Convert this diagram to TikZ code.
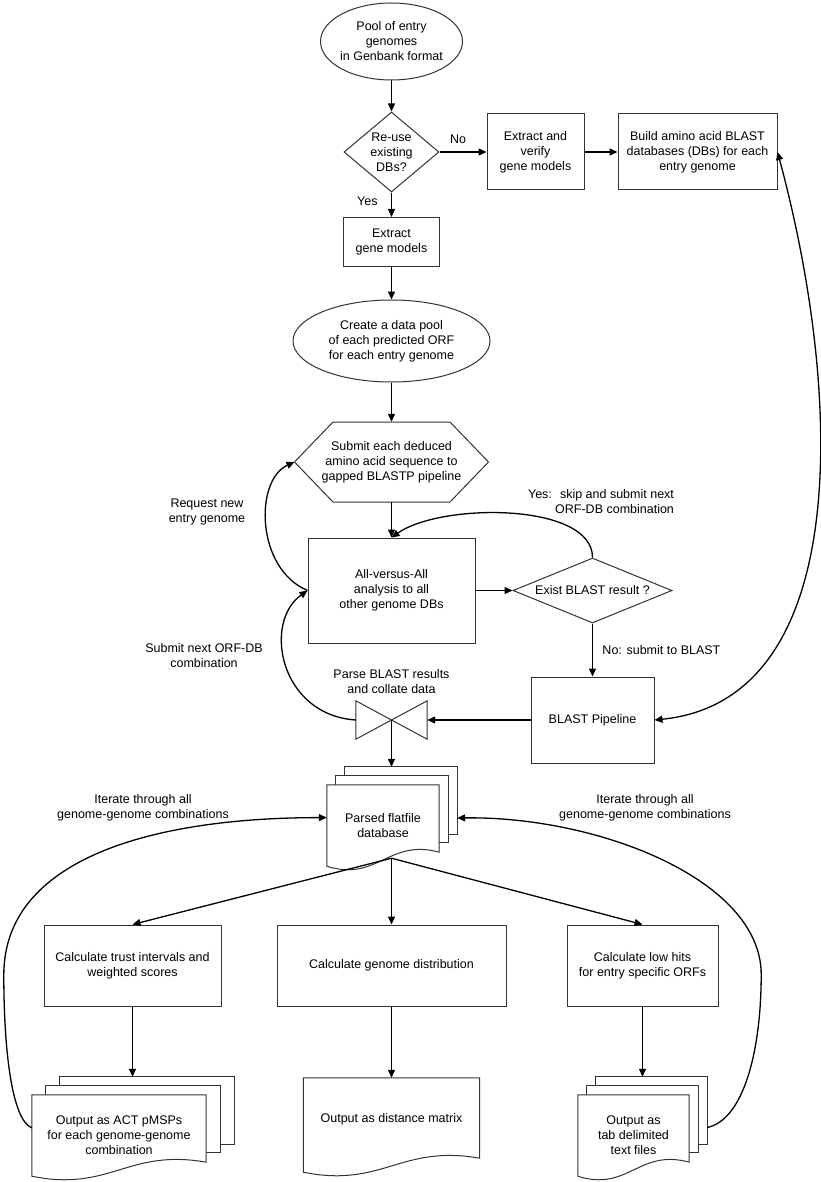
\documentclass[tikz,border=0pt]{standalone}
\usepackage{fontspec}
\setmainfont{Liberation Sans}
\usetikzlibrary{arrows.meta, shapes.geometric, calc, backgrounds}

% front sheet of a document symbol with a wavy lower edge
\newcommand{\docsheet}[2]{%
  \draw[sheet] (#1.north west) -- (#1.north east) -- ($(#1.south east)+(0,#2-14)$)
    .. controls ($(#1.south west)!0.55!(#1.south east)+(0,#2-28)$)
    and ($(#1.south west)!0.45!(#1.south east)+(0,#2+16)$) .. ($(#1.south west)+(0,#2)$) -- cycle;}
% two plain sheets behind a document
\newcommand{\sheetstack}[2]{%
  \draw[sheet] ($(#1.north west)+(2*#2,-18)$) coordinate (#1-top) rectangle ($(#1.north east)+(2*#2,50)$);
  \draw[sheet] ($(#1.north west)+(#2,-9)$) rectangle ($(#1.north east)+(#2,58)$);}

\begin{document}
\begin{tikzpicture}[x=1pt,y=-1pt,>={Triangle[length=8pt,width=7pt]},
 box/.style={draw=black!80,line width=1pt,align=center,font=\fontsize{12.5}{15}\selectfont},
 oval/.style={box,ellipse,inner sep=0pt},
 decision/.style={box,diamond,inner sep=0pt},
 docnode/.style={align=center,font=\fontsize{12.5}{15}\selectfont,inner sep=0pt},
 note/.style={align=center,font=\fontsize{12.5}{15}\selectfont},
 flow/.style={->,line width=1.3pt},
 outline/.style={draw=black!80,line width=1pt},
 sheet/.style={outline,fill=white}]
\useasboundingbox (0,0) rectangle (820,1182);

\node[oval,inner xsep=-2pt,minimum width=142pt,minimum height=77pt](pool) at (391.5,41.5){Pool of entry\\genomes\\in Genbank format};
\node[decision,minimum width=95pt,minimum height=80pt,aspect=1.2](reuse)[below of=pool,node distance=110.5pt]{Re-use\\existing\\DBs?};
\node[box,minimum width=97pt,minimum height=76pt](verify)[right of=reuse,node distance=144pt]{Extract and\\verify\\gene models};
\node[box,minimum width=159pt,minimum height=76pt](build)[right of=verify,node distance=162pt]{Build amino acid BLAST\\databases (DBs) for each\\entry genome};
\node[box,minimum width=96pt,minimum height=49pt](extract)[below of=reuse,node distance=90pt]{Extract\\gene models};
\node[oval,minimum width=197pt,minimum height=82pt](datapool)[below of=extract,node distance=99pt]{Create a data pool\\of each predicted ORF\\for each entry genome};
\node[note,minimum height=80pt](submit)[below of=datapool,node distance=121pt]{Submit each deduced\\amino acid sequence to\\gapped BLASTP pipeline};
\node[box,minimum width=167pt,minimum height=105pt](ava)[below of=submit,node distance=128.5pt]{All-versus-All\\analysis to all\\other genome DBs};
\node[decision,minimum width=159pt,minimum height=65pt,aspect=2.4](exist)[right of=ava,node distance=201pt]{Exist BLAST result ?};
\node[box,minimum width=123pt,minimum height=86pt](blast)[below of=exist,node distance=129.5pt]{BLAST Pipeline};
\node[minimum width=71pt,minimum height=38pt,inner sep=0pt](bowtie)[below of=ava,node distance=129.5pt]{};
\node[docnode,minimum width=112pt,minimum height=81pt](parsed)[below of=bowtie,node distance=105.5pt,xshift=-8.5pt]{Parsed flatfile\\database};
\node[box,minimum width=229pt,minimum height=81pt](distrib)[below of=bowtie,node distance=245.5pt]{Calculate genome distribution};
\node[box,minimum width=177pt,minimum height=81pt](trust)[left of=distrib,node distance=259pt]{Calculate trust intervals and\\weighted scores};
\node[box,minimum width=151pt,minimum height=81pt](lowhits)[right of=distrib,node distance=251pt]{Calculate low hits\\for entry specific ORFs};
\node[docnode,minimum width=174pt,minimum height=81pt](act)[below of=trust,node distance=170pt,xshift=-13.5pt]{Output as ACT pMSPs\\for each genome-genome\\combination};
\node[docnode,minimum width=176pt,minimum height=82pt](dist)[below of=distrib,node distance=153.5pt]{Output as distance matrix};
\node[docnode,minimum width=111pt,minimum height=81pt](tab)[below of=lowhits,node distance=170pt,xshift=-9pt]{Output as\\tab delimited\\text files};

% free labels
\node[note,align=right](yesnote) at (601,502){Yes:~ skip and submit next\\ORF-DB combination};
\node[note](parsenote)[above of=bowtie,node distance=38.5pt]{Parse BLAST results\\and collate data};
\node[note](requestnote) at (207,511.5){Request new\\entry genome};
\node[note](nextnote) at (204,655.5){Submit next ORF-DB\\combination};
\node[note](iterleft) at (143,807.5){Iterate through all\\genome-genome combinations};
\node[note](iterright) at (645,807.5){Iterate through all\\genome-genome combinations};

% hexagon and bowtie outlines
\draw[outline] (submit.center) ++(-58.5,-40) -- ++(117,0) -- ++(38.5,40) -- ++(-38.5,40) -- ++(-117,0) -- ++(-38.5,-40) -- cycle;
\coordinate (subtip) at ($(submit.center)+(-97,0)$);
\draw[outline] (bowtie.north west) -- (bowtie.south east) -- (bowtie.north east) -- (bowtie.south west) -- cycle;

\begin{scope}[on background layer]
 \sheetstack{parsed}{9}
 \docsheet{parsed}{0}
 \sheetstack{act}{14}
 \docsheet{act}{0}
 \docsheet{dist}{12}
 \sheetstack{tab}{9}
 \docsheet{tab}{0}
\end{scope}

\coordinate (pout) at ($(parsed.south)+(8.5,-8)$);
\coordinate (pright) at ($(parsed.east)+(18,-7.5)$);
\coordinate (tabr) at ($(tab.east)+(18,-8)$);

\draw[flow] (pool) -- (reuse);
\draw[flow] (reuse) -- node[note,above=4pt,xshift=-5pt]{No} (verify);
\draw[flow] (verify) -- (build);
\draw[flow] (reuse) -- node[note,left,xshift=-10pt,yshift=3pt]{Yes} (extract);
\draw[flow] (extract) -- (datapool);
\draw[flow] (datapool) -- (submit);
\draw[flow] (submit) -- (ava);
\draw[flow] (ava) -- (exist);
\draw[flow] (exist) -- node[note,right,xshift=6pt]{No: submit to BLAST} (blast);
\draw[flow] (blast) -- (bowtie);
\draw[flow] (bowtie.center) -- (bowtie.center |- parsed-top);
\draw[flow] (pout) -- (trust.north);
\draw[flow] (pout) -- (distrib.north);
\draw[flow] (pout) -- (lowhits.north);
\draw[flow] (trust) -- (trust.south |- act-top);
\draw[flow] (distrib) -- (dist);
\draw[flow] (lowhits) -- (lowhits.south |- tab-top);

% loops back
\draw[flow] (exist.north) .. controls +(0,-55) and +(50,-35) .. (ava.north);
\draw[flow,<->] (blast.east) .. controls +(198,-20) and +(66,245) .. (build.east);
\draw[flow] (ava.west) .. controls +(-52,-22) and +(-40,18) .. (subtip);
\draw[flow] (bowtie.west) .. controls +(-76,-5) and +(-45,32) .. (ava.west);
\draw[flow] (act.175) .. controls +(-20,-8) and +(0,75) .. ++(-28,-153) .. controls +(0,-115) and +(-177,0) .. (parsed.172);
\draw[flow] (tabr) .. controls +(37,-8) and +(0,75) .. ++(54,-153) .. controls +(0,-95) and +(140,-2) .. (pright);

\end{tikzpicture}
\end{document}
